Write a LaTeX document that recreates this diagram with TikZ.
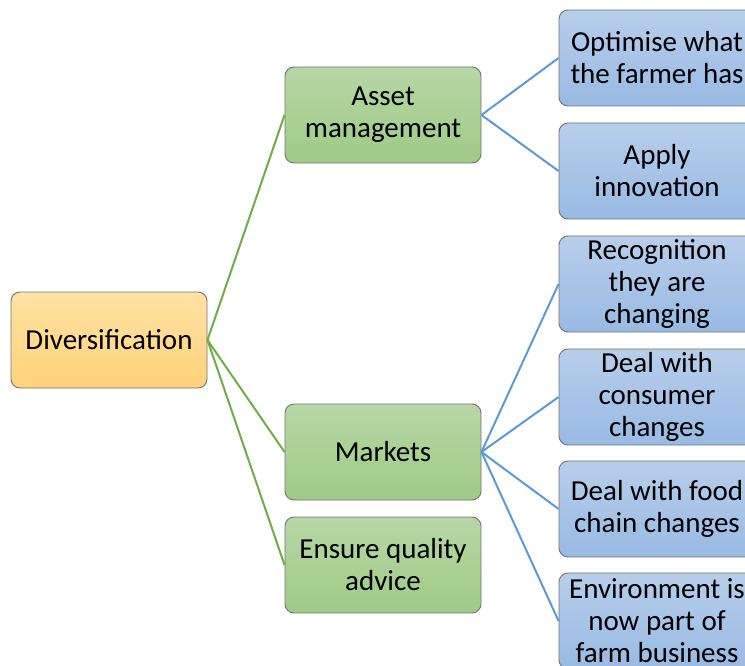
\documentclass[tikz,border=0pt]{standalone}
\usepackage{fontspec}
\setmainfont{Carlito}
\definecolor{rootTop}{HTML}{FFE2A4}
\definecolor{rootBot}{HTML}{FFD27C}
\definecolor{midTop}{HTML}{B7D7A6}
\definecolor{midBot}{HTML}{9FCA86}
\definecolor{leafTop}{HTML}{B8CEEB}
\definecolor{leafBot}{HTML}{98BAE3}
\definecolor{greenLine}{HTML}{70AD47}
\definecolor{blueLine}{HTML}{5B9BD5}
\tikzset{
  box/.style={draw=black!55, line width=0.9pt, rounded corners=9pt,
    minimum width=196pt, minimum height=96pt, inner sep=0pt,
    align=center, font=\fontsize{29}{32}\selectfont},
  rootbox/.style={box, top color=rootTop, bottom color=rootBot},
  midbox/.style={box, top color=midTop, bottom color=midBot},
  leafbox/.style={box, top color=leafTop, bottom color=leafBot},
  glink/.style={greenLine, line width=2pt},
  blink/.style={blueLine, line width=2pt}
}
\begin{document}
\begin{tikzpicture}[x=1pt,y=-1pt]
    \useasboundingbox (0,0) rectangle (745,666);
    \clip (0,0) rectangle (745,666);

    \node[rootbox] (div) at (109,340) {Diversification};

    \node[midbox] (asset) at (383,115) {Asset\\management};
    \node[midbox] (markets) at (383,452) {Markets};
    \node[midbox] (advice) at (383,565) {Ensure quality\\advice};

    \node[leafbox] (optimise) at (657,58) {Optimise what\\the farmer has};
    \node[leafbox] (innov) at (657,171) {Apply\\innovation};
    \node[leafbox] (recog) at (657,284) {Recognition\\they are\\changing};
    \node[leafbox] (consumer) at (657,397) {Deal with\\consumer\\changes};
    \node[leafbox] (foodchain) at (657,509) {Deal with food\\chain changes};
    \node[leafbox] (environ) at (657,621) {Environment is\\now part of\\farm business};

    \draw[glink] (div.east) -- (asset.west);
    \draw[glink] (div.east) -- (markets.west);
    \draw[glink] (div.east) -- (advice.west);

    \draw[blink] (asset.east) -- (optimise.west);
    \draw[blink] (asset.east) -- (innov.west);

    \draw[blink] (markets.east) -- (recog.west);
    \draw[blink] (markets.east) -- (consumer.west);
    \draw[blink] (markets.east) -- (foodchain.west);
    \draw[blink] (markets.east) -- (environ.west);
\end{tikzpicture}
\end{document}
